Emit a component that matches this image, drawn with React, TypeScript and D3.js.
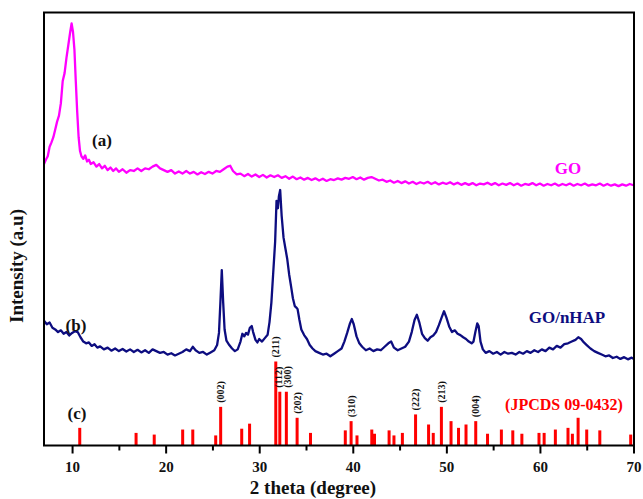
import React, { useEffect, useRef } from "react";
import * as d3 from "d3";

// GO pattern, [2theta, intensity a.u.]
const goData: [number, number][] = [
  [7.0, 650], [7.2, 660], [7.4, 668], [7.6, 690], [7.8, 700], [8.0, 712], [8.2, 730], [8.4, 748],
  [8.6, 762], [8.8, 790], [9.0, 842], [9.2, 860], [9.4, 895], [9.6, 925], [9.8, 955], [9.95, 975],
  [10.1, 955], [10.25, 915], [10.4, 840], [10.55, 770], [10.7, 712], [10.85, 680], [11.0, 668],
  [11.2, 662], [11.4, 670], [11.6, 656], [11.8, 660], [12.0, 650], [12.3, 654], [12.6, 644],
  [12.9, 650], [13.2, 640], [13.5, 646], [13.8, 636], [14.1, 642], [14.4, 634], [14.7, 640],
  [15.0, 632], [15.4, 638], [15.8, 630], [16.2, 636], [16.6, 634], [17.0, 640], [17.4, 634],
  [17.8, 640], [18.2, 638], [18.6, 644], [19.0, 648], [19.4, 640], [19.8, 636], [20.2, 632],
  [20.6, 636], [21.0, 628], [21.4, 633], [21.8, 628], [22.2, 634], [22.6, 628], [23.0, 632],
  [23.4, 626], [23.8, 631], [24.2, 627], [24.6, 632], [25.0, 628], [25.4, 634], [25.8, 632],
  [26.2, 638], [26.6, 644], [26.9, 646], [27.2, 634], [27.6, 626], [28.0, 628], [28.4, 622],
  [28.8, 627], [29.2, 621], [29.6, 626], [30.0, 620], [30.4, 625], [30.8, 619], [31.2, 624],
  [31.6, 620], [32.0, 624], [32.4, 618], [32.8, 622], [33.2, 616], [33.6, 621], [34.0, 615],
  [34.4, 619], [34.8, 614], [35.2, 618], [35.6, 613], [36.0, 617], [36.4, 612], [36.8, 616],
  [37.2, 611], [37.6, 615], [38.0, 613], [38.4, 617], [38.8, 614], [39.2, 618], [39.6, 616],
  [40.0, 620], [40.4, 615], [40.8, 619], [41.2, 614], [41.6, 618], [42.0, 620], [42.4, 616],
  [42.8, 612], [43.2, 614], [43.6, 609], [44.0, 612], [44.4, 607], [44.8, 611], [45.2, 606],
  [45.6, 610], [46.0, 605], [46.4, 609], [46.8, 604], [47.2, 608], [47.6, 605], [48.0, 609],
  [48.4, 604], [48.8, 608], [49.2, 603], [49.6, 607], [50.0, 604], [50.4, 608], [50.8, 603],
  [51.2, 607], [51.6, 602], [52.0, 606], [52.4, 602], [52.8, 606], [53.2, 601], [53.6, 605],
  [54.0, 603], [54.4, 607], [54.8, 602], [55.2, 606], [55.6, 601], [56.0, 605], [56.4, 602],
  [56.8, 606], [57.2, 601], [57.6, 605], [58.0, 600], [58.4, 604], [58.8, 602], [59.2, 606],
  [59.6, 601], [60.0, 605], [60.4, 600], [60.8, 604], [61.2, 601], [61.6, 605], [62.0, 600],
  [62.4, 604], [62.8, 601], [63.2, 605], [63.6, 600], [64.0, 604], [64.4, 601], [64.8, 605],
  [65.2, 600], [65.6, 603], [66.0, 601], [66.4, 605], [66.8, 600], [67.2, 604], [67.6, 600],
  [68.0, 603], [68.4, 599], [68.8, 603], [69.2, 600], [69.6, 604], [70.0, 601]
];

// GO/nHAP pattern, [2theta, intensity a.u.]
const hapData: [number, number][] = [
  [7.0, 288], [7.3, 280], [7.6, 284], [7.9, 272], [8.2, 268], [8.5, 262], [8.8, 266], [9.1, 258],
  [9.4, 262], [9.7, 254], [10.0, 260], [10.3, 264], [10.6, 262], [10.9, 250], [11.2, 240],
  [11.5, 236], [11.8, 238], [12.1, 230], [12.4, 234], [12.7, 226], [13.0, 229], [13.4, 222],
  [13.8, 226], [14.2, 219], [14.6, 224], [15.0, 218], [15.4, 223], [15.8, 217], [16.2, 222],
  [16.6, 216], [17.0, 221], [17.4, 215], [17.8, 220], [18.2, 214], [18.6, 222], [19.0, 218],
  [19.4, 214], [19.8, 216], [20.2, 210], [20.6, 213], [21.0, 208], [21.4, 212], [21.8, 216],
  [22.2, 222], [22.6, 218], [22.9, 228], [23.2, 220], [23.6, 214], [24.0, 216], [24.4, 210],
  [24.8, 215], [25.2, 220], [25.5, 232], [25.7, 260], [25.85, 330], [26.0, 405], [26.15, 330],
  [26.3, 268], [26.5, 242], [26.8, 232], [27.1, 224], [27.4, 218], [27.7, 222], [28.0, 240],
  [28.2, 258], [28.4, 252], [28.6, 260], [28.8, 256], [29.0, 272], [29.2, 276], [29.35, 262],
  [29.6, 244], [29.8, 238], [30.0, 246], [30.3, 240], [30.6, 248], [30.9, 256], [31.1, 285],
  [31.3, 330], [31.5, 400], [31.7, 470], [31.85, 565], [32.0, 548], [32.1, 575], [32.24, 590],
  [32.4, 530], [32.6, 480], [32.8, 455], [33.0, 430], [33.2, 395], [33.4, 368], [33.6, 340],
  [33.8, 322], [34.0, 318], [34.1, 315], [34.3, 290], [34.5, 268], [34.8, 255], [35.1, 246],
  [35.4, 232], [35.7, 224], [36.0, 218], [36.4, 214], [36.8, 210], [37.2, 212], [37.6, 206],
  [38.0, 212], [38.4, 218], [38.8, 224], [39.1, 240], [39.4, 260], [39.7, 282], [39.9, 292],
  [40.1, 280], [40.4, 252], [40.7, 236], [41.0, 228], [41.4, 220], [41.8, 224], [42.2, 218],
  [42.6, 222], [43.0, 220], [43.4, 228], [43.8, 236], [44.1, 240], [44.4, 226], [44.8, 220],
  [45.2, 224], [45.6, 228], [46.0, 240], [46.3, 262], [46.6, 290], [46.85, 302], [47.1, 285],
  [47.4, 258], [47.7, 248], [48.0, 242], [48.3, 250], [48.6, 254], [48.9, 262], [49.2, 278],
  [49.5, 296], [49.75, 310], [50.0, 296], [50.3, 275], [50.6, 262], [50.9, 266], [51.2, 258],
  [51.5, 255], [51.8, 250], [52.1, 246], [52.4, 240], [52.7, 236], [52.9, 240], [53.1, 262],
  [53.3, 282], [53.45, 276], [53.65, 240], [53.9, 222], [54.2, 214], [54.6, 218], [55.0, 212],
  [55.4, 216], [55.8, 210], [56.2, 216], [56.6, 212], [57.0, 214], [57.4, 210], [57.8, 216],
  [58.2, 212], [58.6, 218], [59.0, 214], [59.4, 220], [59.8, 216], [60.2, 222], [60.6, 218],
  [61.0, 226], [61.4, 222], [61.8, 230], [62.2, 226], [62.6, 234], [63.0, 236], [63.4, 240],
  [63.8, 244], [64.1, 250], [64.4, 246], [64.7, 238], [65.0, 232], [65.4, 224], [65.8, 218],
  [66.2, 214], [66.6, 210], [67.0, 206], [67.4, 208], [67.8, 202], [68.2, 205], [68.6, 200],
  [69.0, 204], [69.4, 199], [69.8, 203], [70.0, 200]
];

// JCPDS 09-0432 reference lines, [2theta, relative intensity]
const refPeaks: [number, number][] = [
  [10.82, 21], [16.84, 15], [18.78, 13], [21.82, 19], [22.9, 19], [25.35, 12], [25.88, 46],
  [28.13, 20], [28.97, 26], [31.77, 100], [32.2, 64], [32.9, 64], [34.05, 33], [35.48, 15],
  [39.2, 18], [39.82, 29], [40.45, 12], [42.03, 19], [42.32, 14], [43.88, 18], [44.4, 12],
  [45.3, 15], [46.71, 37], [48.1, 25], [48.6, 15], [49.47, 46], [50.5, 29], [51.3, 21],
  [52.1, 25], [53.14, 29], [54.4, 14], [55.88, 19], [57.1, 18], [58.07, 14], [59.9, 15],
  [60.45, 15], [61.65, 19], [63.0, 21], [63.47, 14], [64.08, 33], [65.0, 19], [66.4, 18],
  [69.7, 13]
];

const hklTheta = [25.88, 31.77, 32.2, 32.9, 34.05, 39.82, 46.71, 49.47, 53.14];
const hklText = ["(002)", "(211)", "(112)", "(300)", "(202)", "(310)", "(222)", "(213)", "(004)"];

const majorTicks = [10, 20, 30, 40, 50, 60, 70];
const minorTicks = [15, 25, 35, 45, 55, 65];

const FONT = "'Liberation Serif', 'Times New Roman', serif";

const App: React.FC = () => {
  const ref = useRef<SVGSVGElement | null>(null);

  useEffect(() => {
    if (!ref.current) return;
    const svg = d3.select(ref.current);
    svg.selectAll("*").remove();

    const left = 44, right = 634, top = 12.5, bottom = 445.5;

    const x = d3.scaleLinear().domain([7, 70]).range([left, right - 0.5]);
    const y = d3.scaleLinear().domain([0, 1000]).range([bottom, top]);
    const yRef = d3.scaleLinear().domain([0, 100]).range([bottom, bottom - 84]);

    svg.append("rect")
      .attr("width", 643).attr("height", 499).attr("fill", "#fff");

    const line = d3.line<[number, number]>()
      .x(d => x(d[0]))
      .y(d => y(d[1]));

    svg.append("path")
      .datum(goData)
      .attr("d", line)
      .attr("fill", "none")
      .attr("stroke", "#ff00ff")
      .attr("stroke-width", 2.3)
      .attr("stroke-linejoin", "round");

    svg.append("path")
      .datum(hapData)
      .attr("d", line)
      .attr("fill", "none")
      .attr("stroke", "#0d0d80")
      .attr("stroke-width", 2.3)
      .attr("stroke-linejoin", "round");

    // reference stick pattern
    svg.selectAll(".ref")
      .data(refPeaks)
      .enter()
      .append("rect")
      .attr("x", d => x(d[0]) - 1.5)
      .attr("y", d => yRef(d[1]))
      .attr("width", 3)
      .attr("height", d => bottom - yRef(d[1]))
      .attr("fill", "#ff0000");

    // (112) and (300) sit next to each other, nudge them apart a little
    const nudge: Record<string, number> = { "(112)": -1, "(300)": 1.5 };
    hklTheta.forEach((t, i) => {
      const peak = refPeaks.find(p => p[0] === t);
      const h = peak ? peak[1] : 0;
      const px = x(t) + (nudge[hklText[i]] || 0), py = yRef(h) - 4;
      svg.append("text")
        .attr("transform", `translate(${px},${py}) rotate(-90)`)
        .attr("dy", "0.35em")
        .attr("font-family", FONT)
        .attr("font-weight", "bold")
        .attr("font-size", 10)
        .attr("fill", "#111")
        .text(hklText[i]);
    });

    // frame
    svg.append("rect")
      .attr("x", left).attr("y", top)
      .attr("width", right - left).attr("height", bottom - top)
      .attr("fill", "none")
      .attr("stroke", "#000")
      .attr("stroke-width", 2);

    const ax = svg.append("g").attr("transform", `translate(0,${bottom})`);
    ax.call(d3.axisBottom(x).tickValues(majorTicks).tickSize(8).tickPadding(8).tickFormat(d3.format("d")));
    ax.append("g").call(d3.axisBottom(x).tickValues(minorTicks).tickSize(5).tickFormat(() => ""));
    ax.selectAll(".domain").remove();
    ax.selectAll("line").attr("stroke", "#000").attr("stroke-width", 2);
    ax.selectAll("text")
      .attr("font-family", FONT)
      .attr("font-weight", "bold")
      .attr("font-size", 15)
      .attr("fill", "#111");

    const label = (tx: number, ty: number, s: string, color: string, size: number) =>
      svg.append("text")
        .attr("x", tx).attr("y", ty)
        .attr("text-anchor", "middle")
        .attr("font-family", FONT)
        .attr("font-weight", "bold")
        .attr("font-size", size)
        .attr("fill", color)
        .text(s);

    label(102, 146, "(a)", "#111", 17);
    label(76, 331, "(b)", "#111", 17);
    label(77, 419, "(c)", "#111", 17);
    label(568, 174, "GO", "#ff00ff", 17);
    label(567, 323, "GO/nHAP", "#0d0d80", 17);
    label(564, 410, "(JPCDS 09-0432)", "#ff0000", 16);
    label(313, 494, "2 theta (degree)", "#111", 19);

    svg.append("text")
      .attr("transform", "translate(23,266) rotate(-90)")
      .attr("text-anchor", "middle")
      .attr("font-family", FONT)
      .attr("font-weight", "bold")
      .attr("font-size", 19)
      .attr("fill", "#111")
      .text("Intensity (a.u)");
  }, []);

  return (
    <svg
      ref={ref}
      width={643}
      height={499}
      style={{ position: "absolute", left: 0, top: 0 }}
    />
  );
};

export default App;
